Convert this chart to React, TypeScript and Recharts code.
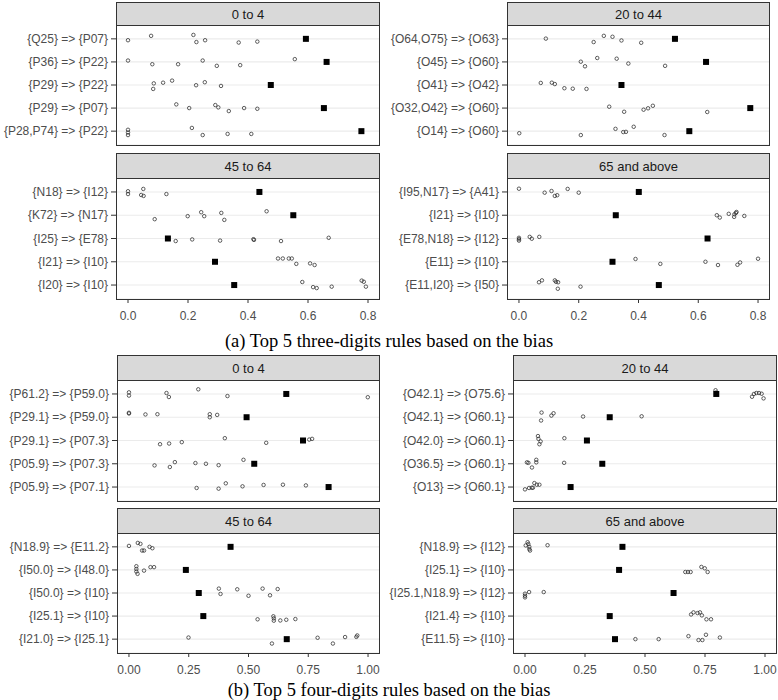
import React from "react";
import { ScatterChart, Scatter, XAxis, YAxis, CartesianGrid } from "recharts";

// ---- (a) three-digit rules ----
const A04_RULES = ["{Q25} => {P07}", "{P36} => {P22}", "{P29} => {P22}", "{P29} => {P07}", "{P28,P74} => {P22}"];
const A04_BIAS = [0.593, 0.662, 0.476, 0.653, 0.778];
const A04_POINTS = [
  [[0.0, -0.06], [0.077, 0.13], [0.218, 0.17], [0.228, -0.14], [0.257, -0.06], [0.369, -0.16], [0.431, -0.12]],
  [[0.0, 0.06], [0.081, -0.1], [0.167, -0.1], [0.249, 0.06], [0.296, -0.17], [0.374, -0.14], [0.556, 0.12]],
  [[0.086, 0.07], [0.084, -0.17], [0.117, 0.1], [0.147, 0.19], [0.227, -0.01], [0.256, 0.12], [0.31, -0.04]],
  [[0.161, 0.16], [0.204, 0], [0.291, 0.13], [0.301, 0.03], [0.336, -0.13], [0.387, 0], [0.431, -0.03]],
  [[0, 0.06], [0, -0.06], [0, -0.17], [0.213, 0.14], [0.249, -0.17], [0.332, -0.12], [0.411, -0.12]],
];

const A20_RULES = ["{O64,O75} => {O63}", "{O45} => {O60}", "{O41} => {O42}", "{O32,O42} => {O60}", "{O14} => {O60}"];
const A20_BIAS = [0.522, 0.626, 0.343, 0.774, 0.57];
const A20_POINTS = [
  [[0.09, 0.01], [0.25, -0.14], [0.284, 0.13], [0.313, 0.09], [0.343, -0.07], [0.409, -0.17]],
  [[0.207, 0.01], [0.221, -0.19], [0.262, 0.17], [0.327, 0.14], [0.366, -0.07], [0.489, -0.17]],
  [[0.073, 0.09], [0.11, 0.1], [0.12, 0.04], [0.152, -0.14], [0.18, -0.16], [0.226, -0.17]],
  [[0.302, 0.06], [0.352, -0.16], [0.417, -0.07], [0.432, -0.01], [0.448, 0.1], [0.63, -0.17]],
  [[0.001, -0.09], [0.207, -0.17], [0.323, 0.1], [0.349, -0.04], [0.358, -0.03], [0.384, 0.19], [0.487, -0.17]],
];

const A45_RULES = ["{N18} => {I12}", "{K72} => {N17}", "{I25} => {E78}", "{I21} => {I10}", "{I20} => {I10}"];
const A45_BIAS = [0.438, 0.551, 0.133, 0.29, 0.354];
const A45_POINTS = [
  [[0, 0.03], [0, -0.09], [0.051, 0.13], [0.044, -0.13], [0.052, -0.17], [0.128, -0.09]],
  [[0.089, -0.17], [0.199, -0.04], [0.244, 0.13], [0.254, -0.04], [0.311, 0.1], [0.321, -0.2], [0.462, 0.17]],
  [[0.159, -0.11], [0.214, -0.04], [0.307, -0.09], [0.418, -0.03], [0.42, -0.06], [0.51, -0.11], [0.669, 0.03]],
  [[0.5, 0.14], [0.516, 0.14], [0.536, 0.14], [0.546, 0.14], [0.561, -0.09], [0.607, -0.07], [0.622, -0.14]],
  [[0.581, 0.13], [0.617, -0.09], [0.629, -0.13], [0.679, -0.07], [0.779, 0.19], [0.786, 0.14], [0.793, -0.07]],
];

const A65_RULES = ["{I95,N17} => {A41}", "{I21} => {I10}", "{E78,N18} => {I12}", "{E11} => {I10}", "{E11,I20} => {I50}"];
const A65_BIAS = [0.401, 0.324, 0.631, 0.313, 0.468];
const A65_POINTS = [
  [[0, 0.14], [0.086, -0.03], [0.109, 0.04], [0.12, -0.17], [0.128, -0.14], [0.163, 0.13], [0.2, -0.03]],
  [[0.662, 0], [0.672, -0.1], [0.702, 0.06], [0.721, 0.04], [0.726, 0.1], [0.728, 0.14], [0.72, -0.07], [0.754, -0.03]],
  [[0, 0.03], [0, -0.03], [0, -0.09], [0.036, 0.07], [0.043, -0.01], [0.068, 0.07]],
  [[0.39, 0.12], [0.473, -0.09], [0.624, 0], [0.666, -0.14], [0.731, -0.13], [0.74, -0.03], [0.8, 0.13]],
  [[0.067, 0.12], [0.077, 0.2], [0.12, 0.2], [0.124, 0.14], [0.131, 0.12], [0.13, -0.16], [0.206, -0.07]],
];

// ---- (b) four-digit rules ----
const B04_RULES = ["{P61.2} => {P59.0}", "{P29.1} => {P59.0}", "{P29.1} => {P07.3}", "{P05.9} => {P07.3}", "{P05.9} => {P07.1}"];
const B04_BIAS = [0.658, 0.492, 0.728, 0.524, 0.835];
const B04_POINTS = [
  [[0, 0.07], [0, -0.07], [0.157, 0.04], [0.167, -0.13], [0.29, 0.2], [0.412, -0.09], [0.999, -0.14]],
  [[0, 0.19], [0, 0.16], [0.069, 0.12], [0.119, 0.13], [0.338, 0.13], [0.338, 0], [0.369, 0.1]],
  [[0.13, -0.16], [0.168, -0.13], [0.221, -0.07], [0.401, 0.1], [0.574, -0.1], [0.754, 0.04], [0.766, 0.07]],
  [[0.107, -0.07], [0.171, -0.14], [0.192, 0.07], [0.278, 0.03], [0.322, 0], [0.375, -0.06], [0.479, 0.17]],
  [[0.283, -0.04], [0.375, -0.07], [0.405, 0.16], [0.475, 0.03], [0.563, 0.09], [0.644, 0.1], [0.74, 0.07]],
];

const B20_RULES = ["{O42.1} => {O75.6}", "{O42.1} => {O60.1}", "{O42.0} => {O60.1}", "{O36.5} => {O60.1}", "{O13} => {O60.1}"];
const B20_BIAS = [0.797, 0.353, 0.258, 0.322, 0.19];
const B20_POINTS = [
  [[0.794, 0.16], [0.797, 0.06], [0.946, -0.12], [0.954, 0], [0.964, 0.04], [0.975, 0.04], [0.986, 0.01], [0.994, -0.19]],
  [[0.069, 0.2], [0.067, -0.14], [0.11, 0.07], [0.119, 0.17], [0.242, 0.03], [0.486, 0.04]],
  [[0.054, 0.19], [0.056, 0.07], [0.065, -0.04], [0.06, -0.16], [0.164, 0.1]],
  [[0.008, 0.06], [0.014, 0.04], [0.029, -0.16], [0.047, 0.17], [0.047, 0.06], [0.163, 0.04]],
  [[0, -0.1], [0.017, -0.04], [0.028, -0.03], [0.033, -0.03], [0.039, 0.17], [0.049, 0.1], [0.06, 0.1]],
];

const B45_RULES = ["{N18.9} => {E11.2}", "{I50.0} => {I48.0}", "{I50.0} => {I10}", "{I25.1} => {I10}", "{I21.0} => {I25.1}"];
const B45_BIAS = [0.425, 0.238, 0.292, 0.311, 0.66];
const B45_POINTS = [
  [[0, 0.04], [0.037, 0.17], [0.048, 0.13], [0.055, -0.16], [0.063, -0.16], [0.086, 0], [0.098, -0.06]],
  [[0.031, 0.16], [0.031, 0.04], [0.031, -0.07], [0.036, -0.17], [0.063, -0.03], [0.09, 0.12], [0.105, 0.12]],
  [[0.376, 0.19], [0.383, -0.04], [0.453, 0.16], [0.5, -0.12], [0.559, 0.19], [0.59, -0.1], [0.622, 0.17]],
  [[0.538, -0.14], [0.604, -0.01], [0.606, -0.1], [0.606, -0.2], [0.633, -0.19], [0.658, -0.16], [0.696, -0.13]],
  [[0.249, 0.07], [0.598, -0.19], [0.789, 0.06], [0.853, -0.19], [0.904, 0.09], [0.951, 0.1], [0.955, 0.16]],
];

const B65_RULES = ["{N18.9} => {I12}", "{I25.1} => {I10}", "{I25.1,N18.9} => {I12}", "{I21.4} => {I10}", "{E11.5} => {I10}"];
const B65_BIAS = [0.406, 0.392, 0.619, 0.353, 0.375];
const B65_POINTS = [
  [[0.003, 0.06], [0.011, 0.2], [0.014, 0.12], [0.018, 0], [0.018, -0.1], [0.021, -0.16], [0.094, 0.07]],
  [[0.668, -0.09], [0.679, -0.09], [0.69, -0.09], [0.735, 0.13], [0.749, 0.07], [0.761, -0.09]],
  [[0, -0.03], [0, -0.12], [0, -0.19], [0.017, 0.04], [0.078, 0.04]],
  [[0.692, 0.07], [0.702, 0.16], [0.719, 0.13], [0.729, 0.16], [0.737, 0.03], [0.756, -0.14], [0.775, -0.14]],
  [[0.46, 0], [0.557, 0], [0.681, 0.13], [0.723, -0.04], [0.739, -0.04], [0.754, 0.19], [0.812, 0.07]],
];

const A_TICKS = [0, 0.2, 0.4, 0.6, 0.8];
const B_TICKS = [0, 0.25, 0.5, 0.75, 1];
const A_DOMAIN: [number, number] = [-0.04, 0.84];
const B_DOMAIN: [number, number] = [-0.05, 1.05];

const SANS = "'Liberation Sans', Arial, sans-serif";
const SERIF = "'Liberation Serif', 'Times New Roman', serif";

function OpenDot(props: any) {
  const { cx, cy } = props;
  return <circle cx={cx} cy={cy} r={1.75} fill="none" stroke="#2b2b2b" strokeWidth={0.75} />;
}

function BiasSquare(props: any) {
  const { cx, cy } = props;
  return <rect x={cx - 3} y={cy - 3} width={6} height={6} fill="#000" />;
}

type PanelProps = {
  title: string;
  rules: string[];
  bias: number[];
  points: number[][][];
  domain: [number, number];
  ticks: number[];
  digits: number;
  showX: boolean;
  chartLeft: number;
  plotL: number;
  plotR: number;
  stripT: number;
  stripB: number;
  plotB: number;
};

function Panel(p: PanelProps) {
  const circles = p.points.flatMap((row, i) => row.map(([x, dy]) => ({ x, y: 5 - i + dy })));
  const squares = p.bias.map((x, i) => ({ x, y: 5 - i }));
  const yW = p.plotL - p.chartLeft;
  const plotH = p.plotB - p.stripB;
  const xH = p.showX ? 28 : 0;
  const width = p.plotR - p.chartLeft + 1;
  const tickStyle = { fill: "#4d4d4d", fontSize: 12, fontFamily: SANS };
  const ruleTick = (t: any) => (
    <text x={t.x} y={t.y} dy="0.355em" textAnchor="end" fill="#4d4d4d" fontSize={12} fontFamily={SANS}>
      {p.rules[5 - t.payload.value]}
    </text>
  );
  return (
    <>
      <div
        style={{
          position: "absolute",
          left: p.plotL,
          top: p.stripT,
          width: p.plotR - p.plotL,
          height: p.stripB - p.stripT + 1,
          background: "#d9d9d9",
          border: "1px solid #333",
          boxSizing: "border-box",
          display: "flex",
          alignItems: "center",
          justifyContent: "center",
          font: `13px ${SANS}`,
          color: "#1a1a1a",
        }}
      >
        {p.title}
      </div>
      <div style={{ position: "absolute", left: p.chartLeft, top: p.stripB }}>
        <ScatterChart width={width} height={plotH + xH} margin={{ top: 0, right: 1, bottom: 0, left: 0 }}>
          <CartesianGrid vertical={false} stroke="#ebebeb" strokeWidth={1.1} />
          <XAxis
            type="number"
            dataKey="x"
            domain={p.domain}
            ticks={p.ticks}
            tickFormatter={(v: number) => v.toFixed(p.digits)}
            hide={!p.showX}
            height={xH}
            axisLine={false}
            tickSize={4}
            tickMargin={8}
            tick={tickStyle}
            tickLine={{ stroke: "#333" }}
            allowDataOverflow
            interval={0}
          />
          <YAxis
            type="number"
            dataKey="y"
            domain={[0.4, 5.6]}
            ticks={[5, 4, 3, 2, 1]}
            width={yW}
            axisLine={false}
            tickSize={5}
            tickMargin={3}
            tick={ruleTick}
            tickLine={{ stroke: "#333" }}
            allowDataOverflow
            interval={0}
          />
          <Scatter data={circles} shape={<OpenDot />} isAnimationActive={false} />
          <Scatter data={squares} shape={<BiasSquare />} isAnimationActive={false} />
        </ScatterChart>
      </div>
      <div
        style={{
          position: "absolute",
          left: p.plotL,
          top: p.stripB,
          width: p.plotR - p.plotL,
          height: plotH + 1,
          border: "1px solid #333",
          boxSizing: "border-box",
          pointerEvents: "none",
        }}
      />
    </>
  );
}

function Caption({ text, top }: { text: string; top: number }) {
  return (
    <div
      style={{
        position: "absolute",
        left: 0,
        width: 778,
        top,
        textAlign: "center",
        font: `18.5px ${SERIF}`,
        color: "#000",
        lineHeight: "22px",
      }}
    >
      {text}
    </div>
  );
}

export default function App() {
  const aL = { domain: A_DOMAIN, ticks: A_TICKS, digits: 1 };
  const bL = { domain: B_DOMAIN, ticks: B_TICKS, digits: 2 };
  return (
    <div style={{ position: "relative", width: 778, height: 700, background: "#fff", overflow: "hidden" }}>
      <style>{"body{margin:0}"}</style>
      <Panel title="0 to 4" rules={A04_RULES} bias={A04_BIAS} points={A04_POINTS} {...aL} showX={false}
        chartLeft={0} plotL={116} plotR={380} stripT={2} stripB={25} plotB={145} />
      <Panel title="20 to 44" rules={A20_RULES} bias={A20_BIAS} points={A20_POINTS} {...aL} showX={false}
        chartLeft={377} plotL={507} plotR={770} stripT={2} stripB={25} plotB={145} />
      <Panel title="45 to 64" rules={A45_RULES} bias={A45_BIAS} points={A45_POINTS} {...aL} showX={true}
        chartLeft={0} plotL={116} plotR={380} stripT={153} stripB={178} plotB={299} />
      <Panel title="65 and above" rules={A65_RULES} bias={A65_BIAS} points={A65_POINTS} {...aL} showX={true}
        chartLeft={377} plotL={507} plotR={770} stripT={153} stripB={178} plotB={299} />
      <Caption text="(a) Top 5 three-digits rules based on the bias" top={330} />

      <Panel title="0 to 4" rules={B04_RULES} bias={B04_BIAS} points={B04_POINTS} {...bL} showX={false}
        chartLeft={0} plotL={117} plotR={380} stripT={355} stripB={380} plotB={501} />
      <Panel title="20 to 44" rules={B20_RULES} bias={B20_BIAS} points={B20_POINTS} {...bL} showX={false}
        chartLeft={380} plotL={513} plotR={777} stripT={355} stripB={380} plotB={501} />
      <Panel title="45 to 64" rules={B45_RULES} bias={B45_BIAS} points={B45_POINTS} {...bL} showX={true}
        chartLeft={0} plotL={117} plotR={380} stripT={508} stripB={533} plotB={653} />
      <Panel title="65 and above" rules={B65_RULES} bias={B65_BIAS} points={B65_POINTS} {...bL} showX={true}
        chartLeft={380} plotL={513} plotR={777} stripT={508} stripB={533} plotB={653} />
      <Caption text="(b) Top 5 four-digits rules based on the bias" top={679} />
    </div>
  );
}
